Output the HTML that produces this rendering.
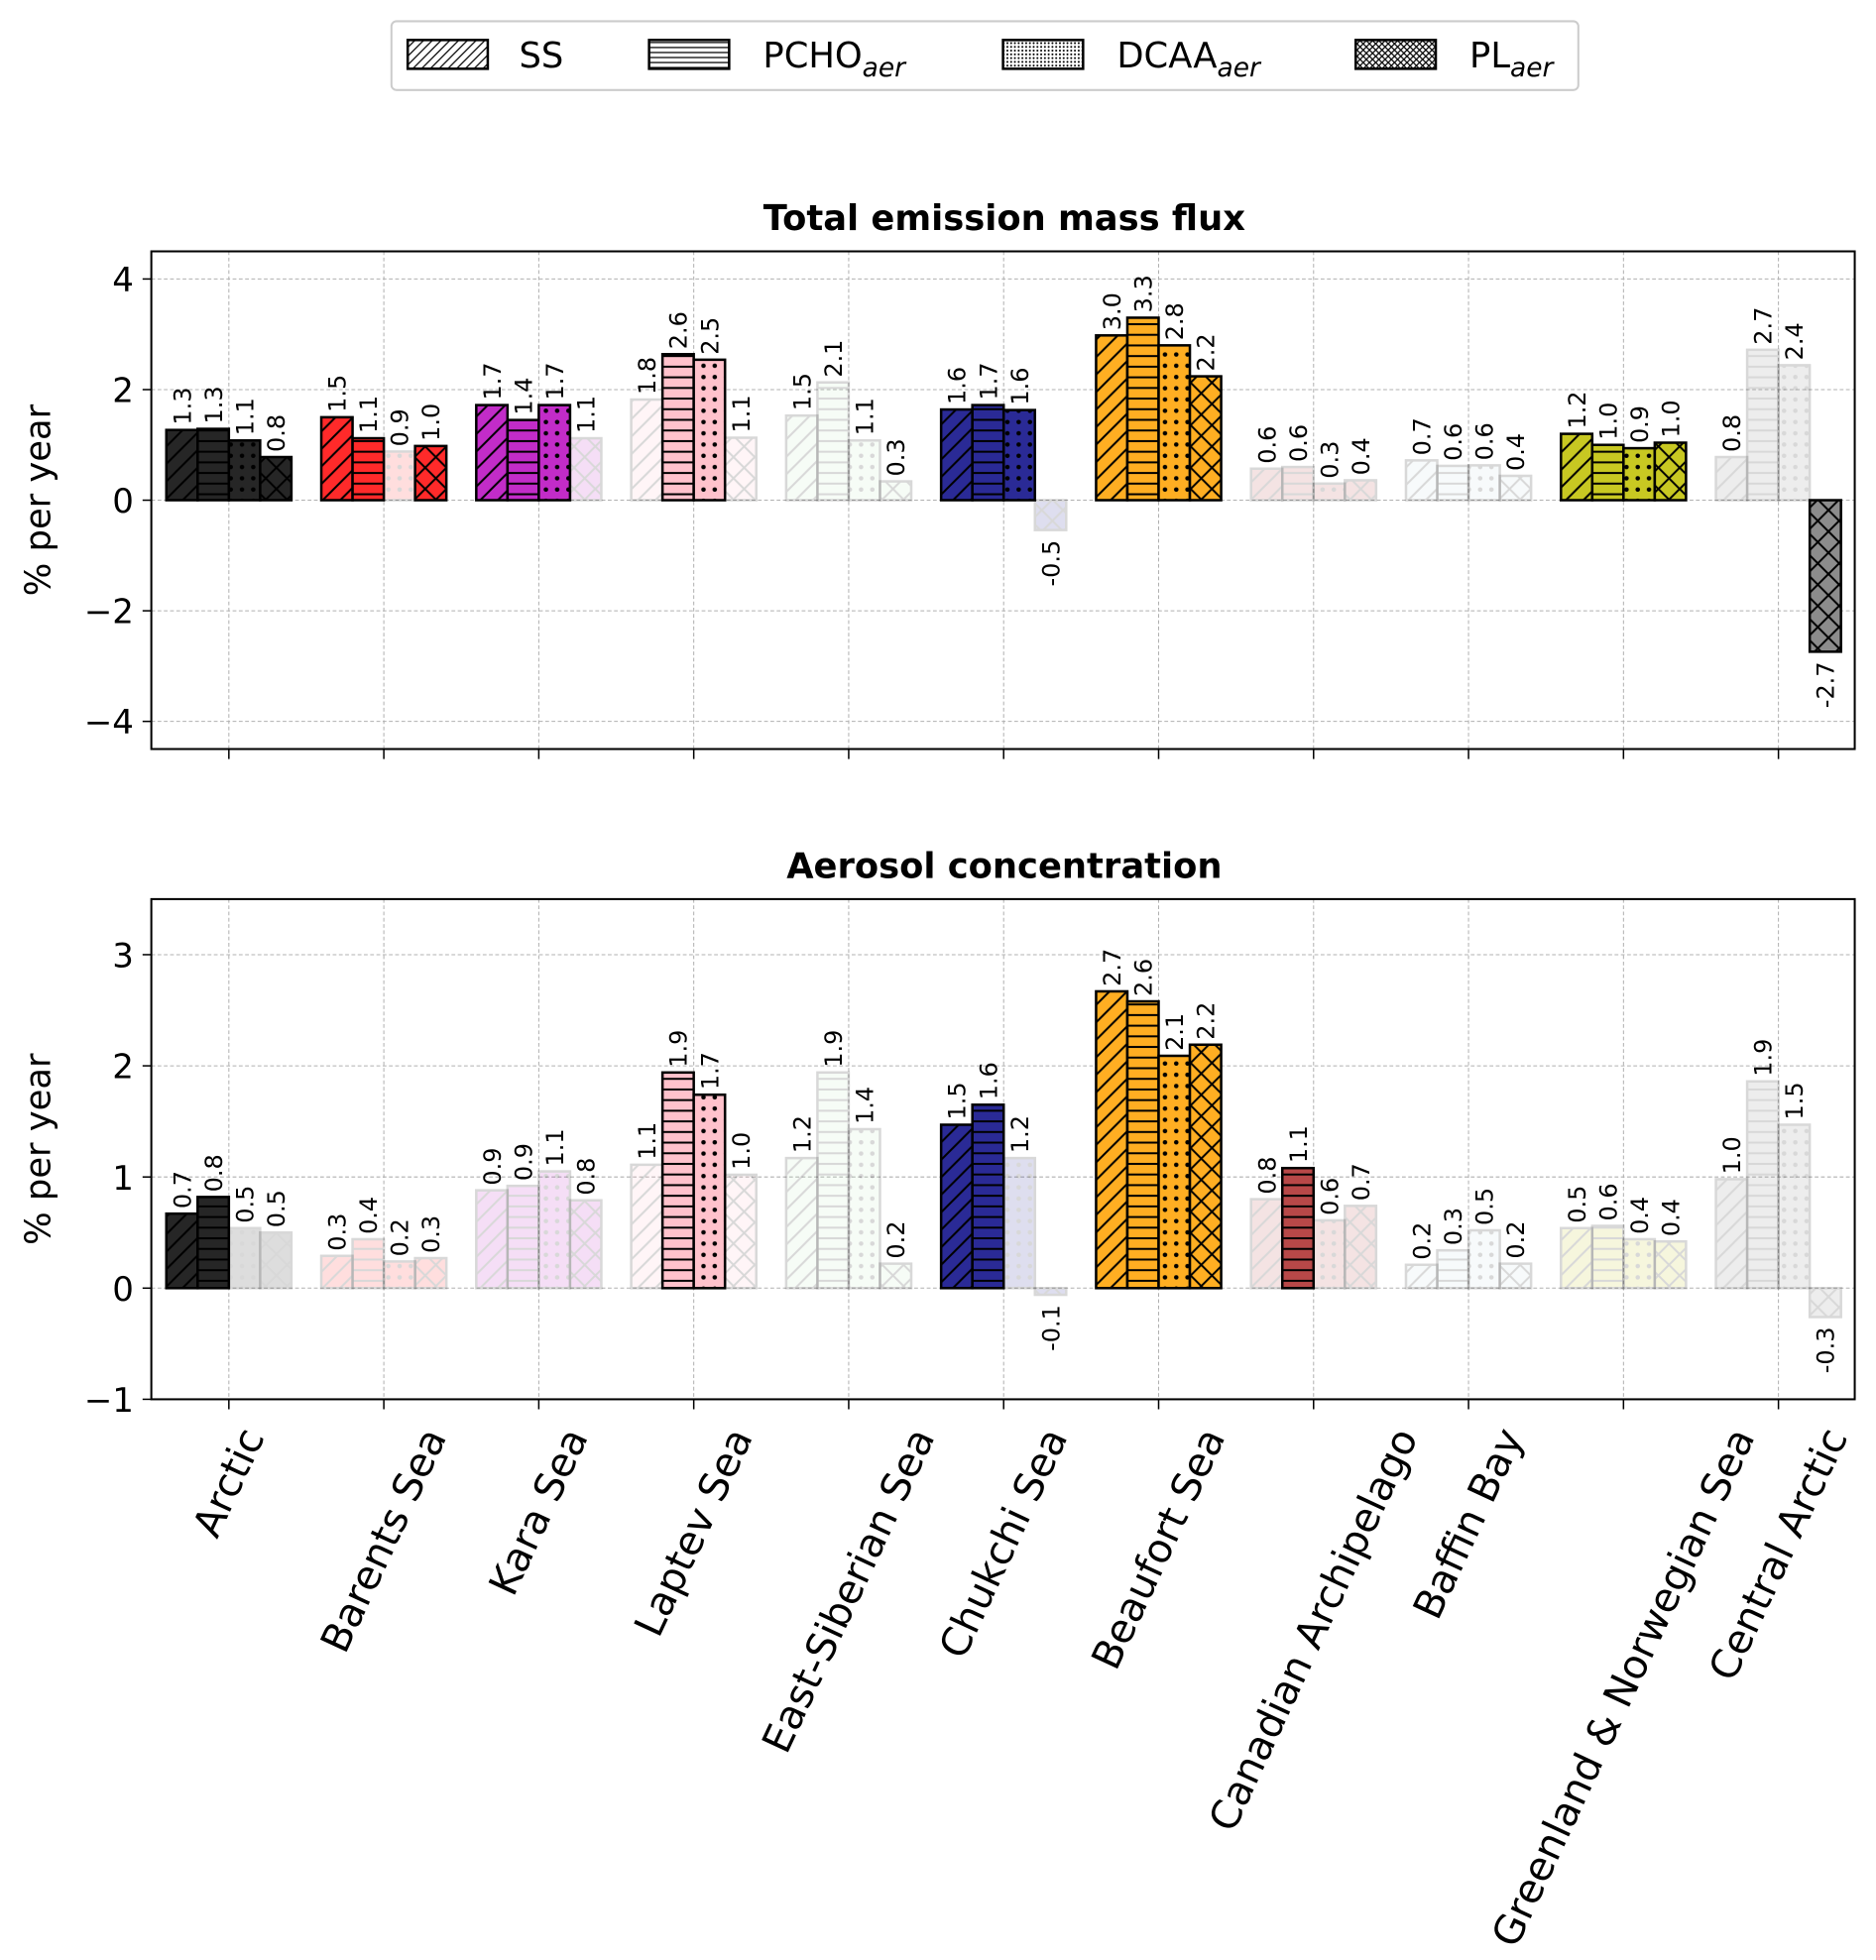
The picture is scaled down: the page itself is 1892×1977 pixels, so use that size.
<!DOCTYPE html>
<html><head><meta charset="utf-8"><style>
html,body{margin:0;padding:0;background:#fff}
svg{display:block;font-family:"DejaVu Sans","Liberation Sans",sans-serif}
</style></head><body>
<svg id="chart" width="1892" height="1977" viewBox="0 0 1500 1567.4" preserveAspectRatio="none" xmlns="http://www.w3.org/2000/svg">
<defs>
<pattern id="p-ss" patternUnits="userSpaceOnUse" width="14" height="14"><path d="M-2,16 L16,-2 M-2,2 L2,-2 M12,16 L16,12" stroke="#000" stroke-width="1.6"/></pattern>
<pattern id="p-pcho" patternUnits="userSpaceOnUse" width="8.5" height="8.5"><path d="M0,4.25 L8.5,4.25" stroke="#000" stroke-width="1.6"/></pattern>
<pattern id="p-dcaa" patternUnits="userSpaceOnUse" width="9" height="9"><circle cx="4.5" cy="4.5" r="1.8" fill="#000"/></pattern>
<pattern id="p-pl" patternUnits="userSpaceOnUse" width="17" height="17"><path d="M0,0 L17,17 M17,0 L0,17" stroke="#000" stroke-width="1.6"/></pattern>
<pattern id="l-ss" patternUnits="userSpaceOnUse" width="7" height="7"><path d="M-1,8 L8,-1 M-1,1 L1,-1 M6,8 L8,6" stroke="#000" stroke-width="1"/></pattern>
<pattern id="l-pcho" patternUnits="userSpaceOnUse" width="4" height="4"><path d="M0,2 L4,2" stroke="#000" stroke-width="1"/></pattern>
<pattern id="l-dcaa" patternUnits="userSpaceOnUse" width="3" height="3"><circle cx="1.5" cy="1.5" r="0.8" fill="#000"/></pattern>
<pattern id="l-pl" patternUnits="userSpaceOnUse" width="5" height="5"><path d="M0,0 L5,5 M5,0 L0,5" stroke="#000" stroke-width="1"/></pattern>
</defs>
<g id="root"></g>
</svg>
<script>
const categories = ["Arctic","Barents Sea","Kara Sea","Laptev Sea","East-Siberian Sea","Chukchi Sea","Beaufort Sea","Canadian Archipelago","Baffin Bay","Greenland & Norwegian Sea","Central Arctic"];
const colors = ["#262626","#ff2a2a","#c22cc8","#ffc2cc","#c8ecc8","#2a2a96","#ffae22","#b84848","#cfe4e6","#c8c822","#8c8c8c"];
const series = ["SS","PCHO","DCAA","PL"];
// Top panel: total emission mass flux (% per year)
const fluxSS   = [1.27,1.50,1.72,1.82,1.53,1.64,2.98,0.57,0.72,1.20,0.78];
const fluxPCHO = [1.29,1.12,1.45,2.64,2.13,1.72,3.30,0.60,0.62,1.00,2.72];
const fluxDCAA = [1.08,0.88,1.72,2.54,1.08,1.63,2.80,0.30,0.63,0.94,2.44];
const fluxPL   = [0.78,0.98,1.12,1.13,0.34,-0.54,2.24,0.36,0.44,1.04,-2.74];
const fluxSig  = [[1,1,1,1],[1,1,0,1],[1,1,1,0],[0,1,1,0],[0,0,0,0],[1,1,1,0],[1,1,1,1],[0,0,0,0],[0,0,0,0],[1,1,1,1],[0,0,0,1]];
// Bottom panel: aerosol concentration (% per year)
const concSS   = [0.67,0.29,0.88,1.11,1.17,1.47,2.67,0.80,0.21,0.54,0.98];
const concPCHO = [0.82,0.44,0.92,1.94,1.94,1.65,2.58,1.08,0.34,0.56,1.86];
const concDCAA = [0.54,0.24,1.05,1.74,1.43,1.17,2.09,0.61,0.52,0.44,1.47];
const concPL   = [0.50,0.27,0.79,1.02,0.22,-0.06,2.19,0.74,0.22,0.42,-0.26];
const concSig  = [[1,1,0,0],[0,0,0,0],[0,0,0,0],[0,1,1,0],[0,0,0,0],[1,1,0,0],[1,1,1,1],[0,1,0,0],[0,0,0,0],[0,0,0,0],[0,0,0,0]];
const fluxTicks = [4,2,0,-2,-4];
const concTicks = [3,2,1,0,-1];

const NS="http://www.w3.org/2000/svg";
const root=document.getElementById('root');
function mk(tag,attrs,parent){const e=document.createElementNS(NS,tag);for(const k in attrs)e.setAttribute(k,attrs[k]);(parent||root).appendChild(e);return e;}
const X0=121,X1=1483,TICK0=183,STEP=123.9,BW=25;
function xc(i){return TICK0+i*STEP;}
const pats=["p-ss","p-pcho","p-dcaa","p-pl"];

function panel(name,title,top,bottom,ymin,ymax,ticks,data,sig){
  const g=mk('g',{});
  
  
  const y=v=>bottom-(v-ymin)/(ymax-ymin)*(bottom-top);
  ticks.forEach(t=>{
    const l=mk('line',{x1:X0,x2:X1,y1:y(t),y2:y(t),stroke:'#b0b0b0','stroke-width':0.8,'stroke-dasharray':'3,2'},g);
    
    
    mk('line',{x1:X0-7,x2:X0,y1:y(t),y2:y(t),stroke:'#000','stroke-width':1.2},g);
    const tx=mk('text',{x:X0-14,y:y(t)+10,'text-anchor':'end','font-size':27},g);
    tx.textContent=(t<0?'\u2212'+(-t):String(t));
    
    
  });
  categories.forEach((c,i)=>{
    mk('line',{x1:xc(i),x2:xc(i),y1:top,y2:bottom,stroke:'#b0b0b0','stroke-width':0.8,'stroke-dasharray':'3,2'},g);
    mk('line',{x1:xc(i),x2:xc(i),y1:bottom,y2:bottom+8,stroke:'#000','stroke-width':1.2},g);
  });
  categories.forEach((c,i)=>{
    data.forEach((arr,s)=>{
      const v=arr[i];
      const x=xc(i)-2*BW+s*BW;
      const y0=y(0),yv=y(v);
      const bg=mk('g',{opacity:sig[i][s]?1:0.15},g);
      
      
      const ry=Math.min(y0,yv),rh=Math.abs(y0-yv);
      mk('rect',{x:x,y:ry,width:BW,height:rh,fill:colors[i]},bg);
      mk('rect',{x:x,y:ry,width:BW,height:rh,fill:'url(#'+pats[s]+')',stroke:'#000','stroke-width':2},bg);
      const lbl=v.toFixed(1);
      const tx=x+BW/2+7;
      const t=mk('text',{'font-size':19},g);
      if(v>=0){t.setAttribute('transform','translate('+tx+','+(yv-4)+') rotate(-90)');t.setAttribute('text-anchor','start');}
      else{t.setAttribute('transform','translate('+tx+','+(yv+8)+') rotate(-90)');t.setAttribute('text-anchor','end');}
      t.textContent=lbl;
      
      
    });
  });
  const fr=mk('rect',{x:X0,y:top,width:X1-X0,height:bottom-top,fill:'none',stroke:'#000','stroke-width':1.6},g);
  
  
  const tt=mk('text',{x:803,y:top-17,'text-anchor':'middle','font-size':28,'font-weight':'bold'},g);
  tt.textContent=title;
  
  
  const yl=mk('text',{transform:'translate(40,'+((top+bottom)/2)+') rotate(-90)','text-anchor':'middle','font-size':28},g);
  yl.textContent='% per year';
  
  
}
panel('flux-panel','Total emission mass flux',201,599,-4.5,4.5,fluxTicks,[fluxSS,fluxPCHO,fluxDCAA,fluxPL],fluxSig);
panel('concentration-panel','Aerosol concentration',719,1119,-1,3.5,concTicks,[concSS,concPCHO,concDCAA,concPL],concSig);

// x labels: rotated bbox centered on tick, top at fixed y
const ANG=65*Math.PI/180, FS=32, H=FS*0.95;
categories.forEach((c,i)=>{
  const t=mk('text',{'text-anchor':'middle','dominant-baseline':'central','font-size':FS});
  t.textContent=c;
  const L=t.getComputedTextLength();
  const bh=L*Math.sin(ANG)+H*Math.cos(ANG);
  t.setAttribute('transform','translate('+xc(i)+','+(1138+bh/2)+') rotate(-65)');
  
  
});

const lg=mk('g',{});


mk('rect',{x:313,y:17,width:949,height:55,rx:4,fill:'#fff',stroke:'#cccccc','stroke-width':1.6},lg);
const lx=[326,519,802,1084], tx=[415,610,893,1175], names=["SS","PCHO","DCAA","PL"];
const lp=["l-ss","l-pcho","l-dcaa","l-pl"];
names.forEach((n,k)=>{
  const e=mk('g',{},lg);
  
  
  mk('rect',{x:lx[k],y:32,width:64,height:23,fill:'#fff'},e);
  mk('rect',{x:lx[k],y:32,width:64,height:23,fill:'url(#'+lp[k]+')',stroke:'#000','stroke-width':2},e);
  const t=mk('text',{x:tx[k],y:54,'font-size':28},e);
  t.textContent=n;
  if(k>0){const s=mk('tspan',{'font-style':'italic','font-size':21,dy:7},t);s.textContent='aer';}
});
</script>
</body></html>
